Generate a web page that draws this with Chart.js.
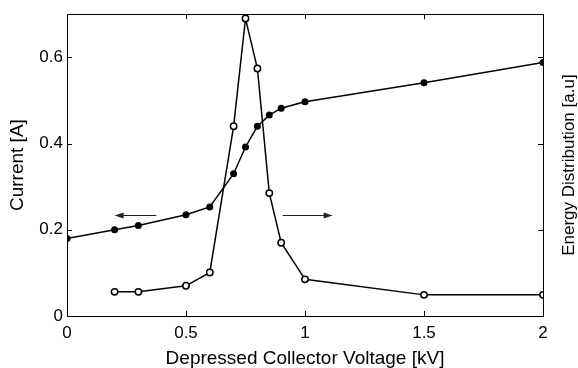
<!DOCTYPE html>
<html>
<head>
<meta charset="utf-8">
<script src="https://cdn.jsdelivr.net/npm/chart.js@4.4.0/dist/chart.umd.min.js"></script>
<style>
  html, body { margin: 0; padding: 0; background: #fff; }
  canvas { display: block; }
</style>
</head>
<body>
<canvas id="c" width="578" height="368"></canvas>
<script>
// ---- data ----
const currentVoltage = [0, 0.2, 0.3, 0.5, 0.6, 0.7, 0.75, 0.8, 0.85, 0.9, 1.0, 1.5, 2.0];
const currentValues  = [0.18, 0.20, 0.21, 0.235, 0.253, 0.33, 0.392, 0.44, 0.466, 0.482, 0.497, 0.541, 0.588];
const energyVoltage  = [0.2, 0.3, 0.5, 0.6, 0.7, 0.75, 0.8, 0.85, 0.9, 1.0, 1.5, 2.0];
const energyValues   = [0.056, 0.056, 0.07, 0.101, 0.44, 0.69, 0.574, 0.285, 0.17, 0.085, 0.049, 0.049];
const xTickValues = [0, 0.5, 1, 1.5, 2];
const yTickValues = [0, 0.2, 0.4, 0.6];
// arrows: [xStart, xEnd, y] in data units
const leftArrow  = [0.375, 0.20, 0.234];
const rightArrow = [0.906, 1.116, 0.234];
const xTitle = 'Depressed Collector Voltage [kV]';
const yTitle = 'Current [A]';
const y2Title = 'Energy Distribution [a.u]';

const FONT = '"Liberation Sans", Arial, Helvetica, sans-serif';

function toPoints(xs, ys) { return xs.map((x, i) => ({ x: x, y: ys[i] })); }

const decor = {
  id: 'decor',
  afterDraw(chart) {
    const { ctx, chartArea: a, scales: { x, y } } = chart;
    ctx.save();
    // box
    ctx.strokeStyle = '#000';
    ctx.lineWidth = 1;
    ctx.strokeRect(Math.round(a.left) + 0.5, Math.round(a.top) + 0.5,
                   Math.round(a.right - a.left), Math.round(a.bottom - a.top));
    // inward ticks
    const tl = 5;
    ctx.beginPath();
    xTickValues.forEach(v => {
      const px = Math.round(x.getPixelForValue(v)) + 0.5;
      ctx.moveTo(px, a.bottom); ctx.lineTo(px, a.bottom - tl);
      ctx.moveTo(px, a.top); ctx.lineTo(px, a.top + tl);
    });
    yTickValues.forEach(v => {
      const py = Math.round(y.getPixelForValue(v)) + 0.5;
      ctx.moveTo(a.left, py); ctx.lineTo(a.left + tl, py);
      ctx.moveTo(a.right, py); ctx.lineTo(a.right - tl, py);
    });
    ctx.stroke();
    // arrows
    ctx.strokeStyle = '#222';
    ctx.fillStyle = '#222';
    ctx.lineWidth = 1;
    [leftArrow, rightArrow].forEach(ar => {
      const x0 = x.getPixelForValue(ar[0]);
      const x1 = x.getPixelForValue(ar[1]);
      const py = Math.round(y.getPixelForValue(ar[2])) + 0.5;
      const dir = Math.sign(x1 - x0);
      ctx.beginPath();
      ctx.moveTo(x0, py); ctx.lineTo(x1 - dir * 6, py);
      ctx.stroke();
      ctx.beginPath();
      ctx.moveTo(x1, py);
      ctx.lineTo(x1 - dir * 9, py - 3);
      ctx.lineTo(x1 - dir * 9, py + 3);
      ctx.closePath();
      ctx.fill();
    });
    // right title
    ctx.fillStyle = '#000';
    ctx.font = '17px ' + FONT;
    ctx.textAlign = 'center';
    ctx.textBaseline = 'middle';
    ctx.translate(569, (a.top + a.bottom) / 2);
    ctx.rotate(-Math.PI / 2);
    ctx.fillText(y2Title, 0, 0);
    ctx.restore();
  }
};

new Chart(document.getElementById('c'), {
  type: 'scatter',
  data: {
    datasets: [
      {
        data: toPoints(energyVoltage, energyValues),
        showLine: true,
        borderColor: '#000',
        borderWidth: 1.5,
        pointRadius: 3.2,
        pointBorderWidth: 1.5,
        pointBackgroundColor: '#fff',
        pointBorderColor: '#000',
        tension: 0
      },
      {
        data: toPoints(currentVoltage, currentValues),
        showLine: true,
        borderColor: '#000',
        borderWidth: 1.5,
        pointRadius: 3.5,
        pointBorderWidth: 0,
        pointBackgroundColor: '#000',
        pointBorderColor: '#000',
        tension: 0
      }
    ]
  },
  options: {
    responsive: false,
    animation: false,
    events: [],
    layout: { padding: { top: 12, right: 35, left: 0, bottom: 0 } },
    plugins: { legend: { display: false }, tooltip: { enabled: false } },
    scales: {
      x: {
        type: 'linear',
        min: 0, max: 2,
        grid: { display: false, drawTicks: false },
        border: { display: false },
        afterBuildTicks: s => { s.ticks = xTickValues.map(v => ({ value: v })); },
        afterFit: s => { s.height = 52; },
        ticks: { color: '#000', font: { family: FONT, size: 17 }, padding: 7, maxRotation: 0,
                 callback: v => String(v) },
        title: { display: true, text: xTitle, color: '#000', font: { family: FONT, size: 19, lineHeight: 1 }, padding: { top: 0, bottom: 0 } }
      },
      y: {
        type: 'linear',
        min: 0, max: 0.7,
        grid: { display: false, drawTicks: false },
        border: { display: false },
        afterBuildTicks: s => { s.ticks = yTickValues.map(v => ({ value: v })); },
        afterFit: s => { s.width = 67; },
        ticks: { color: '#000', font: { family: FONT, size: 17 }, padding: 4,
                 callback: v => String(v) },
        title: { display: true, text: yTitle, color: '#000', font: { family: FONT, size: 19, lineHeight: 1 }, padding: { top: 8, bottom: 0 } }
      }
    }
  },
  plugins: [decor]
});
</script>
</body>
</html>
